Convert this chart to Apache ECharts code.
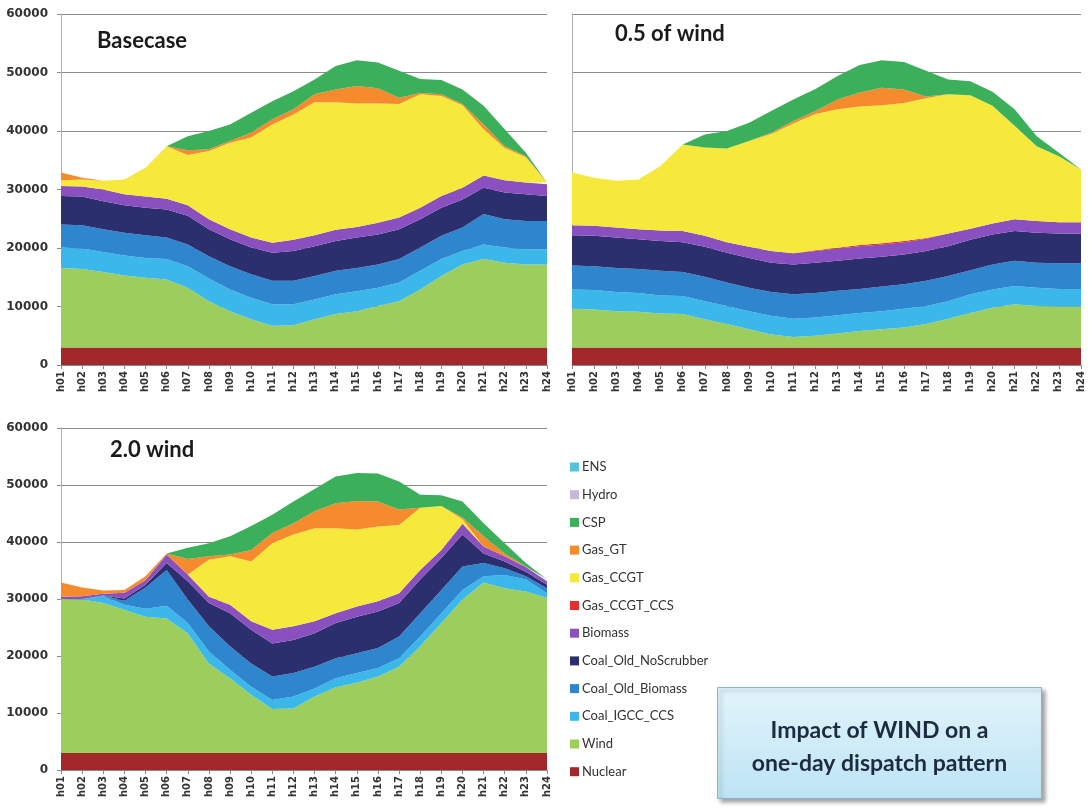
<!DOCTYPE html>
<html>
<head>
<meta charset="utf-8">
<script src="https://cdn.jsdelivr.net/npm/echarts@6/dist/echarts.min.js"></script>
<style>
html,body{margin:0;padding:0;background:#fff;}
#chart{width:1091px;height:811px;}
</style>
</head>
<body>
<div id="chart"></div>
<script>
// ---------- data ----------
const hours = ['h01','h02','h03','h04','h05','h06','h07','h08','h09','h10','h11','h12','h13','h14','h15','h16','h17','h18','h19','h20','h21','h22','h23','h24'];
const yTicks = [0, 10000, 20000, 30000, 40000, 50000, 60000];
const panelTitles = ['Basecase', '0.5 of wind', '2.0 wind'];
const stackOrder = ['Nuclear','Wind','Coal_IGCC_CCS','Coal_Old_Biomass','Coal_Old_NoScrubber','Biomass','Gas_CCGT_CCS','Gas_CCGT','Gas_GT','CSP','Hydro','ENS'];
const legendOrder = ['ENS','Hydro','CSP','Gas_GT','Gas_CCGT','Gas_CCGT_CCS','Biomass','Coal_Old_NoScrubber','Coal_Old_Biomass','Coal_IGCC_CCS','Wind','Nuclear'];
const boxLines = ['Impact of WIND on a', 'one-day dispatch pattern'];

// Basecase
const baseNuclear     = [3000,3000,3000,3000,3000,3000,3000,3000,3000,3000,3000,3000,3000,3000,3000,3000,3000,3000,3000,3000,3000,3000,3000,3000];
const baseWind        = [13600,13400,12900,12300,11900,11600,10200,7900,6200,4800,3700,3800,4800,5700,6200,7100,7900,9900,12200,14200,15100,14500,14200,14200];
const baseCoalIGCC    = [3500,3500,3400,3400,3400,3500,3700,3900,3700,3700,3700,3600,3400,3400,3400,3100,3200,3200,2900,2300,2500,2600,2600,2600];
const baseCoalOldBio  = [3900,4000,3900,3900,3900,3700,3700,3800,4000,4000,4000,4000,4000,4000,4000,4000,4000,4000,4000,4000,5200,4800,4800,4800];
const baseCoalNoScrub = [4900,4900,4800,4700,4700,4800,4900,4600,4600,4600,4800,5100,5100,5100,5200,5100,5100,4800,4800,4800,4500,4600,4600,4300];
const baseBiomass     = [1700,1700,2000,1900,1900,1800,1800,1700,1700,1700,1700,1900,1900,1900,1800,2000,2000,2000,2000,2000,2100,2100,2000,2000];
const baseCCGTCCS     = [0,0,0,0,0,0,0,0,0,0,0,0,0,0,0,0,0,0,0,0,0,0,0,0];
const baseCCGT        = [1000,1200,1500,2500,4900,9000,8600,11700,14800,17100,20200,21400,22700,21800,21100,20400,19400,19400,17100,14100,7900,5500,4300,300];
const baseGT          = [1300,300,0,0,0,0,800,300,300,800,900,900,1400,2200,3000,2600,1100,200,300,200,800,300,200,0];
const baseCSP         = [0,0,0,0,0,0,2400,3100,2800,3400,3100,3100,2500,4000,4400,4400,4600,2400,2400,2500,3200,2900,600,0];
const baseHydro       = [0,0,0,0,0,0,0,0,0,0,0,0,0,0,0,0,0,0,0,0,0,0,0,0];
const baseENS         = [0,0,0,0,0,0,0,0,0,0,0,0,0,0,0,0,0,0,0,0,0,0,0,0];

// 0.5 of wind
const halfNuclear     = [3000,3000,3000,3000,3000,3000,3000,3000,3000,3000,3000,3000,3000,3000,3000,3000,3000,3000,3000,3000,3000,3000,3000,3000];
const halfWind        = [6600,6500,6200,6100,5800,5700,4800,4000,3100,2200,1800,2000,2400,2800,3100,3400,4000,4900,5900,6800,7400,7100,7000,7000];
const halfCoalIGCC    = [3300,3300,3300,3200,3100,3100,3100,3100,3100,3200,3100,3100,3100,3100,3100,3200,3100,3000,3200,3100,3100,3100,3000,3000];
const halfCoalOldBio  = [4100,4100,4100,4100,4200,4100,4200,4000,4000,4100,4200,4200,4200,4100,4200,4200,4300,4300,4100,4300,4300,4300,4400,4400];
const halfCoalNoScrub = [5200,5200,5200,5100,5100,5100,5100,5100,5100,5000,5100,5200,5100,5200,5100,5100,5100,5100,5200,5100,5100,5100,5100,5100];
const halfBiomass     = [1700,1700,1700,1700,1800,1900,1900,1800,1900,2000,1900,2000,2100,2100,2100,2100,2100,2200,1900,1900,2000,2000,1900,1900];
const halfCCGTCCS     = [0,0,0,0,0,0,0,0,0,0,0,100,150,200,200,200,100,0,0,0,0,0,0,0];
const halfCCGT        = [9000,8200,8000,8500,11000,14800,15100,16000,18100,20000,22200,23300,23650,23700,23600,23600,23900,23800,22800,20100,16000,12800,11300,9000];
const halfGT          = [0,0,0,0,0,0,0,0,0,200,400,500,1700,2400,3000,2300,300,0,0,0,0,0,0,0];
const halfCSP         = [0,0,0,0,0,0,2200,3000,3100,3700,3700,3800,4000,4700,4700,4700,4400,2500,2400,2400,2800,1700,600,0];
const halfHydro       = [0,0,0,0,0,0,0,0,0,0,0,0,0,0,0,0,0,0,0,0,0,0,0,0];
const halfENS         = [0,0,0,0,0,0,0,0,0,0,0,0,0,0,0,0,0,0,0,0,0,0,0,0];

// 2.0 wind
const dblNuclear      = [3000,3000,3000,3000,3000,3000,3000,3000,3000,3000,3000,3000,3000,3000,3000,3000,3000,3000,3000,3000,3000,3000,3000,3000];
const dblWind         = [27000,26900,26300,25100,23900,23600,21000,15700,13100,10200,7700,7800,9900,11500,12300,13400,15100,18700,22800,26900,29900,28900,28300,27200];
const dblCoalIGCC     = [0,100,1200,900,1400,2200,1800,2100,1500,1400,1600,2100,1400,1600,1700,1500,1500,1700,1700,1700,1100,2300,2100,800];
const dblCoalOldBio   = [0,0,100,700,3700,6300,4100,4400,4100,4100,4100,4100,3800,3500,3500,3500,3800,4100,4100,4100,2300,1200,600,900];
const dblCoalNoScrub  = [0,0,0,400,500,1200,3200,4100,5800,5900,5800,5800,5900,6200,6400,6400,5900,5900,5600,5600,1700,1200,800,600];
const dblBiomass      = [400,500,300,1000,800,1500,1200,1100,1500,1500,2400,2400,2100,1700,1800,1800,1700,1700,1400,1900,1200,900,800,600];
const dblCCGTCCS      = [0,0,0,0,0,0,0,0,0,0,0,0,0,0,0,0,0,0,0,0,0,0,0,0];
const dblCCGT         = [0,0,0,0,0,0,0,6500,8500,10500,15200,16100,16300,14900,13500,13100,12000,10900,7700,800,0,0,0,0];
const dblGT           = [2500,1500,600,500,700,200,2700,600,300,2000,1800,2000,3000,4400,5000,4400,2700,0,0,300,1800,500,100,300];
const dblCSP          = [0,0,0,0,0,0,2000,2300,3200,4200,3200,3800,3900,4700,4900,4900,4900,2300,1900,2800,2300,1800,600,0];
const dblHydro        = [0,0,0,0,0,0,0,0,0,0,0,0,0,0,0,0,0,0,0,0,0,0,0,0];
const dblENS          = [0,0,0,0,0,0,0,0,0,0,0,0,0,0,0,0,0,0,0,0,0,0,0,0];

// ---------- styles ----------
const colors = {
  Nuclear:'#a2282b', Wind:'#9dcd5c', Coal_IGCC_CCS:'#3bb7ea', Coal_Old_Biomass:'#2e86cf',
  Coal_Old_NoScrubber:'#2c2f6e', Biomass:'#8b50bf', Gas_CCGT_CCS:'#e5302f', Gas_CCGT:'#f7e83c',
  Gas_GT:'#f58b2d', CSP:'#3caf5a', Hydro:'#c7b8da', ENS:'#55c4da'
};

const panels = [
  [baseNuclear,baseWind,baseCoalIGCC,baseCoalOldBio,baseCoalNoScrub,baseBiomass,baseCCGTCCS,baseCCGT,baseGT,baseCSP,baseHydro,baseENS],
  [halfNuclear,halfWind,halfCoalIGCC,halfCoalOldBio,halfCoalNoScrub,halfBiomass,halfCCGTCCS,halfCCGT,halfGT,halfCSP,halfHydro,halfENS],
  [dblNuclear,dblWind,dblCoalIGCC,dblCoalOldBio,dblCoalNoScrub,dblBiomass,dblCCGTCCS,dblCCGT,dblGT,dblCSP,dblHydro,dblENS]
];

const grids = [
  {left:61, top:14, width:486, height:351},
  {left:572, top:14, width:509, height:351},
  {left:61, top:428, width:486, height:342}
];

const axisFont = "'DejaVu Sans', sans-serif";
const xAxes = grids.map((g,i) => ({
  type:'category', gridIndex:i, data:hours, boundaryGap:false,
  axisLine:{show:true, lineStyle:{color:'#8a8a8a', width:1}},
  axisTick:{show:true, alignWithLabel:true, length:4, lineStyle:{color:'#8a8a8a'}},
  axisLabel:{rotate:90, interval:0, fontFamily:axisFont, fontWeight:'bold', fontSize:10, color:'#333', margin:6}
}));
const yAxes = grids.map((g,i) => ({
  type:'value', gridIndex:i, min:yTicks[0], max:yTicks[yTicks.length-1], interval:yTicks[1]-yTicks[0],
  axisLine:{show:true, lineStyle:{color:'#b0b0b0'}},
  axisTick:{show:i!==1, length:4, lineStyle:{color:'#8a8a8a'}},
  axisLabel:{show:i!==1, fontFamily:axisFont, fontWeight:'bold', fontSize:12, color:'#333', margin:13,
             formatter:function(v){return String(v);}},
  splitLine:{show:true, lineStyle:{color:'#8a8a8a', width:1}}
}));

const series = [];
panels.forEach((arrs, p) => {
  stackOrder.forEach((name, k) => {
    series.push({
      name:name, type:'line', xAxisIndex:p, yAxisIndex:p, stack:'panel'+p,
      data:arrs[k], symbol:'none', showSymbol:false, smooth:false,
      lineStyle:{width:0}, areaStyle:{color:colors[name], opacity:1},
      itemStyle:{color:colors[name]}, emphasis:{disabled:true}, z:2
    });
  });
});

const titlePos = [{x:97,y:43},{x:615,y:36},{x:110,y:452}];
const titleFont = "Lato, 'Open Sans', sans-serif";

const option = {
  animation:false,
  backgroundColor:'#ffffff',
  grid:grids.map(g => Object.assign({containLabel:false}, g)),
  xAxis:xAxes,
  yAxis:yAxes,
  legend:{
    orient:'vertical', left:565, top:455, data:legendOrder,
    icon:'rect', itemWidth:9, itemHeight:9, itemGap:13.7,
    textStyle:{fontFamily:titleFont, fontSize:13, color:'#333', lineHeight:14, padding:[0,0,0,-2]},
    selectedMode:true
  },
  series:series,
  graphic:[
    ...panelTitles.map((t,i) => ({
      type:'text', left:titlePos[i].x, top:titlePos[i].y-13,
      style:{text:t, fontFamily:titleFont, fontWeight:'bold', fontSize:22, fill:'#1a1a1a'}
    })),
    {
      type:'group', left:717, top:687,
      children:[
        {type:'rect', shape:{x:0,y:0,width:324,height:111},
         style:{fill:{type:'linear',x:0,y:0,x2:0,y2:1,colorStops:[{offset:0,color:'#e2f4fb'},{offset:1,color:'#bde4f4'}]},
                stroke:'#86b6cc', lineWidth:1, shadowBlur:4, shadowOffsetX:3, shadowOffsetY:3, shadowColor:'rgba(0,0,0,0.35)'}},
        {type:'text', x:162, y:43,
         style:{text:boxLines[0], fontFamily:titleFont, fontWeight:'bold', fontSize:23, fill:'#1d2b40', align:'center', verticalAlign:'middle'}},
        {type:'text', x:162, y:76,
         style:{text:boxLines[1], fontFamily:titleFont, fontWeight:'bold', fontSize:23, fill:'#1d2b40', align:'center', verticalAlign:'middle'}}
      ]
    }
  ]
};

const chart = echarts.init(document.getElementById('chart'), null, {renderer:'canvas'});
chart.setOption(option);
</script>
</body>
</html>
